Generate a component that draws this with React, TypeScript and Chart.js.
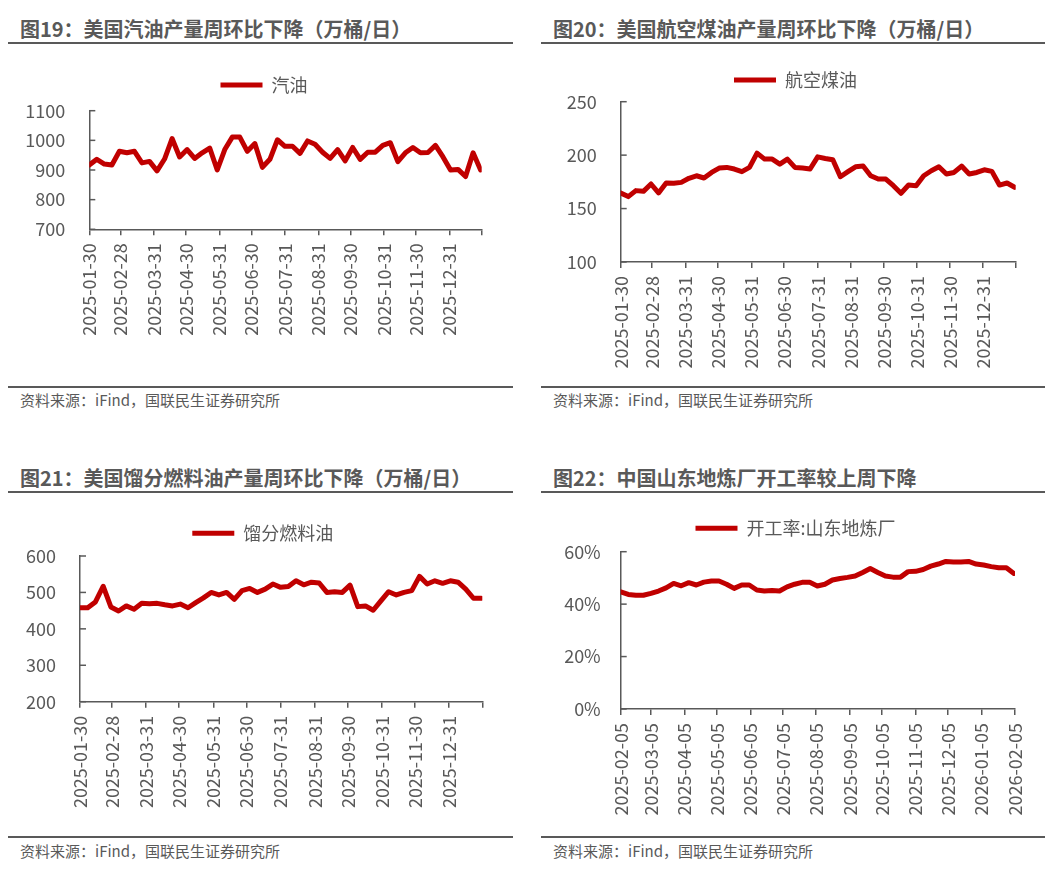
import React, { useEffect, useRef } from 'react';
import { Chart, registerables } from 'chart.js';

Chart.register(...registerables);

// ---------------- data ----------------
const US_DATES = [
  '2025-01-30', '2025-02-06', '2025-02-13', '2025-02-20', '2025-02-27',
  '2025-03-06', '2025-03-13', '2025-03-20', '2025-03-27',
  '2025-04-03', '2025-04-10', '2025-04-17', '2025-04-24',
  '2025-05-01', '2025-05-08', '2025-05-15', '2025-05-22', '2025-05-29',
  '2025-06-05', '2025-06-12', '2025-06-19', '2025-06-26',
  '2025-07-03', '2025-07-10', '2025-07-17', '2025-07-24', '2025-07-31',
  '2025-08-07', '2025-08-14', '2025-08-21', '2025-08-28',
  '2025-09-04', '2025-09-11', '2025-09-18', '2025-09-25',
  '2025-10-02', '2025-10-09', '2025-10-16', '2025-10-23', '2025-10-30',
  '2025-11-06', '2025-11-13', '2025-11-20', '2025-11-27',
  '2025-12-04', '2025-12-11', '2025-12-18', '2025-12-25',
  '2026-01-01', '2026-01-08', '2026-01-15', '2026-01-22', '2026-01-29',
];

const SD_DATES = [
  '2025-02-05', '2025-02-12', '2025-02-19', '2025-02-26',
  '2025-03-05', '2025-03-12', '2025-03-19', '2025-03-26',
  '2025-04-02', '2025-04-09', '2025-04-16', '2025-04-23', '2025-04-30',
  '2025-05-07', '2025-05-14', '2025-05-21', '2025-05-28',
  '2025-06-04', '2025-06-11', '2025-06-18', '2025-06-25',
  '2025-07-02', '2025-07-09', '2025-07-16', '2025-07-23', '2025-07-30',
  '2025-08-06', '2025-08-13', '2025-08-20', '2025-08-27',
  '2025-09-03', '2025-09-10', '2025-09-17', '2025-09-24',
  '2025-10-01', '2025-10-08', '2025-10-15', '2025-10-22', '2025-10-29',
  '2025-11-05', '2025-11-12', '2025-11-19', '2025-11-26',
  '2025-12-03', '2025-12-10', '2025-12-17', '2025-12-24', '2025-12-31',
  '2026-01-07', '2026-01-14', '2026-01-21', '2026-01-28', '2026-02-04',
];

const GASOLINE = [
  917, 936, 920, 917, 963, 958, 963, 924, 929, 897,
  937, 1006, 944, 969, 939, 958, 974, 900, 969, 1011,
  1011, 963, 989, 909, 936, 1002, 980, 980, 956, 998,
  987, 960, 939, 969, 931, 976, 936, 960, 960, 983,
  992, 928, 958, 976, 958, 959, 983, 944, 900, 902,
  878, 958, 900,
];

const JET_FUEL = [
  164.6, 161.2, 166.8, 166.1, 173.0, 164.6, 173.9, 173.6, 174.5, 178.3,
  180.7, 178.6, 183.8, 187.9, 188.5, 187.0, 184.5, 188.5, 201.9, 196.3,
  196.3, 191.6, 196.3, 188.5, 187.9, 187.0, 198.4, 196.9, 195.7, 179.8,
  184.5, 189.1, 189.8, 180.7, 177.6, 177.6, 171.4, 164.3, 172.0, 171.4,
  180.7, 185.4, 189.1, 182.3, 183.8, 189.8, 182.3, 183.8, 186.3, 184.8,
  172.0, 173.9, 169.9,
];

const DISTILLATE = [
  458, 458, 474, 517, 460, 449, 463, 454, 470, 469,
  470, 466, 463, 468, 458, 472, 485, 500, 493, 500,
  481, 505, 511, 500, 509, 523, 514, 516, 532, 521,
  528, 526, 500, 502, 500, 520, 461, 463, 451, 477,
  502, 493, 500, 505, 544, 523, 532, 525, 532, 528,
  509, 484, 484,
];

const SD_RATE = [
  44.7, 43.7, 43.4, 43.4, 44.1, 45.0, 46.2, 47.9, 47.0, 48.2,
  47.3, 48.4, 48.8, 48.8, 47.6, 46.0, 47.3, 47.3, 45.4, 45.0,
  45.2, 45.0, 46.6, 47.6, 48.3, 48.3, 46.9, 47.6, 49.2, 49.8,
  50.2, 50.7, 52.1, 53.6, 52.1, 50.7, 50.3, 50.3, 52.4, 52.5,
  53.2, 54.5, 55.3, 56.3, 56.1, 56.1, 56.3, 55.3, 54.9, 54.3,
  53.9, 53.9, 51.7,
];

const US_AXIS_START = '2025-01-30';
const US_AXIS_END = '2026-01-30';
const US_TICK_DATES = [
  '2025-01-30', '2025-02-28', '2025-03-31', '2025-04-30', '2025-05-31', '2025-06-30',
  '2025-07-31', '2025-08-31', '2025-09-30', '2025-10-31', '2025-11-30', '2025-12-31', '2026-01-30',
];
const US_TICK_LABELS = [
  '2025-01-30', '2025-02-28', '2025-03-31', '2025-04-30', '2025-05-31', '2025-06-30',
  '2025-07-31', '2025-08-31', '2025-09-30', '2025-10-31', '2025-11-30', '2025-12-31', '',
];

const SD_AXIS_START = '2025-02-05';
const SD_AXIS_END = '2026-02-05';
const SD_TICK_DATES = [
  '2025-02-05', '2025-03-05', '2025-04-05', '2025-05-05', '2025-06-05', '2025-07-05',
  '2025-08-05', '2025-09-05', '2025-10-05', '2025-11-05', '2025-12-05', '2026-01-05', '2026-02-05',
];
const SD_TICK_LABELS = SD_TICK_DATES;

const TITLES = [
  '图19：美国汽油产量周环比下降（万桶/日）',
  '图20：美国航空煤油产量周环比下降（万桶/日）',
  '图21：美国馏分燃料油产量周环比下降（万桶/日）',
  '图22：中国山东地炼厂开工率较上周下降',
];
const SERIES_NAMES = ['汽油', '航空煤油', '馏分燃料油', '开工率:山东地炼厂'];
const SOURCE = '资料来源：iFind，国联民生证券研究所';

// ---------------- styles ----------------
const FONT = '"Noto Sans CJK SC", "Noto Sans", sans-serif';
const GREY = '#595959';
const RED = '#C00000';

const dayOf = (d: string, start: string) => (Date.parse(d) - Date.parse(start)) / 86400000;

type Spec = {
  name: string;
  dates: string[];
  values: number[];
  start: string;
  end: string;
  tickDates: string[];
  tickLabels: string[];
  yMin: number;
  yMax: number;
  yStep: number;
  pct: boolean;
  box: { left: number; top: number; width: number; height: number };
  padL: number;
  padR: number;
  padT: number;
  spacer: number;
  yWidth: number;
  rightWidth: number;
  xHeight: number;
  yPad: number;
};

const SPECS: Spec[] = [
  {
    name: SERIES_NAMES[0], dates: US_DATES, values: GASOLINE, start: US_AXIS_START, end: US_AXIS_END,
    tickDates: US_TICK_DATES, tickLabels: US_TICK_LABELS, yMin: 700, yMax: 1100, yStep: 100, pct: false,
    box: { left: 0, top: 50, width: 528, height: 335 },
    padL: 0, padR: 0, padT: 16, spacer: 6.7, yWidth: 89.3, rightWidth: 46.3, xHeight: 155.7, yPad: 24,
  },
  {
    name: SERIES_NAMES[1], dates: US_DATES, values: JET_FUEL, start: US_AXIS_START, end: US_AXIS_END,
    tickDates: US_TICK_DATES, tickLabels: US_TICK_LABELS, yMin: 100, yMax: 250, yStep: 50, pct: false,
    box: { left: 528, top: 50, width: 529, height: 335 },
    padL: 6, padR: 0, padT: 11, spacer: 2.7, yWidth: 86.7, rightWidth: 41.3, xHeight: 123, yPad: 24,
  },
  {
    name: SERIES_NAMES[2], dates: US_DATES, values: DISTILLATE, start: US_AXIS_START, end: US_AXIS_END,
    tickDates: US_TICK_DATES, tickLabels: US_TICK_LABELS, yMin: 200, yMax: 600, yStep: 100, pct: false,
    box: { left: 0, top: 495, width: 528, height: 340 },
    padL: 0, padR: 2.4, padT: 19.3, spacer: 3.7, yWidth: 80, rightWidth: 43.3, xHeight: 133.3, yPad: 24,
  },
  {
    name: SERIES_NAMES[3], dates: SD_DATES, values: SD_RATE, start: SD_AXIS_START, end: SD_AXIS_END,
    tickDates: SD_TICK_DATES, tickLabels: SD_TICK_LABELS, yMin: 0, yMax: 60, yStep: 20, pct: true,
    box: { left: 528, top: 495, width: 529, height: 340 },
    padL: 6, padR: 0, padT: 14.3, spacer: 4.4, yWidth: 86.7, rightWidth: 42, xHeight: 126, yPad: 20,
  },
];

const innerTicks = {
  id: 'innerTicks',
  afterDraw(chart: any) {
    const y = chart.scales.y;
    const ctx = chart.ctx;
    ctx.save();
    ctx.strokeStyle = GREY;
    ctx.lineWidth = 1.5;
    y.ticks.forEach((_t: any, i: number) => {
      const py = y.getPixelForTick(i);
      ctx.beginPath();
      ctx.moveTo(y.right, py);
      ctx.lineTo(y.right + 6, py);
      ctx.stroke();
    });
    ctx.restore();
  },
};

function buildConfig(s: Spec): any {
  const tickDays = s.tickDates.map((d) => dayOf(d, s.start));
  const tickFont = { family: FONT, size: 18 };
  return {
    type: 'line',
    data: {
      datasets: [
        {
          label: s.name,
          data: s.dates.map((d, i) => ({ x: dayOf(d, s.start), y: s.values[i] })),
          borderColor: RED,
          backgroundColor: RED,
          borderWidth: 5,
          pointRadius: 0,
          pointHoverRadius: 0,
          tension: 0,
          borderCapStyle: 'round',
          borderJoinStyle: 'round',
          fill: false,
        },
      ],
    },
    options: {
      responsive: false,
      animation: false,
      devicePixelRatio: 1,
      events: [],
      layout: { padding: { left: s.padL, right: s.padR, top: s.padT, bottom: 0 } },
      plugins: {
        legend: {
          display: true,
          position: 'top',
          labels: {
            usePointStyle: true,
            pointStyle: 'line',
            pointStyleWidth: 42,
            padding: 10,
            color: GREY,
            font: { family: FONT, size: 18 },
          },
        },
        // empty title used only as a spacer between the legend and the plot area
        title: {
          display: true,
          text: '',
          position: 'top',
          weight: 500,
          padding: 0,
          font: { size: s.spacer, lineHeight: 1 },
        },
        tooltip: { enabled: false },
      },
      scales: {
        x: {
          type: 'linear',
          min: 0,
          max: dayOf(s.end, s.start),
          afterBuildTicks: (sc: any) => {
            sc.ticks = tickDays.map((v) => ({ value: v }));
          },
          afterFit: (sc: any) => {
            sc.height = s.xHeight;
          },
          ticks: {
            autoSkip: false,
            minRotation: 90,
            maxRotation: 90,
            padding: 8,
            color: GREY,
            font: tickFont,
            callback: (_v: any, i: number) => s.tickLabels[i] ?? '',
          },
          grid: { display: true, drawOnChartArea: false, drawTicks: true, tickLength: 6, color: GREY, lineWidth: 1.5 },
          border: { display: true, color: GREY, width: 1.5 },
        },
        y: {
          type: 'linear',
          position: 'left',
          min: s.yMin,
          max: s.yMax,
          afterFit: (sc: any) => {
            sc.width = s.yWidth;
          },
          ticks: {
            stepSize: s.yStep,
            padding: s.yPad,
            color: GREY,
            font: tickFont,
            callback: (v: any) => (s.pct ? `${v}%` : `${v}`),
          },
          grid: { display: true, drawOnChartArea: false, drawTicks: false },
          border: { display: true, color: GREY, width: 1.5 },
        },
        // blank right-hand axis that only reserves the margin right of the plot
        yRight: {
          type: 'linear',
          position: 'right',
          display: true,
          afterFit: (sc: any) => {
            sc.width = s.rightWidth;
          },
          ticks: { display: false },
          grid: { display: false, drawTicks: false },
          border: { display: false },
        },
      },
    },
    plugins: [innerTicks],
  };
}

function LineChart({ spec }: { spec: Spec }) {
  const ref = useRef<HTMLCanvasElement | null>(null);
  useEffect(() => {
    if (!ref.current) return;
    const chart = new Chart(ref.current, buildConfig(spec));
    return () => chart.destroy();
  }, [spec]);
  const b = spec.box;
  return (
    <canvas
      ref={ref}
      width={b.width}
      height={b.height}
      style={{ position: 'absolute', left: b.left, top: b.top, width: b.width, height: b.height }}
    />
  );
}

const PANEL_FRAMES = [
  { titleX: 20, titleY: 17, lineX: 8, lineW: 505, topLine: 42, srcLine: 386, srcY: 391 },
  { titleX: 553, titleY: 17, lineX: 541, lineW: 504, topLine: 42, srcLine: 386, srcY: 391 },
  { titleX: 20, titleY: 466, lineX: 8, lineW: 505, topLine: 491, srcLine: 836, srcY: 842 },
  { titleX: 553, titleY: 466, lineX: 541, lineW: 504, topLine: 491, srcLine: 836, srcY: 842 },
];

export default function App() {
  return (
    <div
      style={{
        position: 'absolute',
        left: 0,
        top: 0,
        width: 1057,
        height: 870,
        background: '#ffffff',
        overflow: 'hidden',
      }}
    >
      {PANEL_FRAMES.map((f, i) => (
        <React.Fragment key={i}>
          <div
            style={{
              position: 'absolute',
              left: f.titleX,
              top: f.titleY,
              fontFamily: FONT,
              fontWeight: 700,
              fontSize: 20,
              lineHeight: '24px',
              color: GREY,
              whiteSpace: 'nowrap',
            }}
          >
            {TITLES[i]}
          </div>
          <div style={{ position: 'absolute', left: f.lineX, top: f.topLine, width: f.lineW, height: 2, background: GREY }} />
          <div style={{ position: 'absolute', left: f.lineX, top: f.srcLine, width: f.lineW, height: 2, background: GREY }} />
          <div
            style={{
              position: 'absolute',
              left: f.titleX,
              top: f.srcY,
              fontFamily: FONT,
              fontSize: 15,
              lineHeight: '18px',
              color: GREY,
              whiteSpace: 'nowrap',
            }}
          >
            {SOURCE}
          </div>
        </React.Fragment>
      ))}
      {SPECS.map((s, i) => (
        <LineChart key={i} spec={s} />
      ))}
    </div>
  );
}
